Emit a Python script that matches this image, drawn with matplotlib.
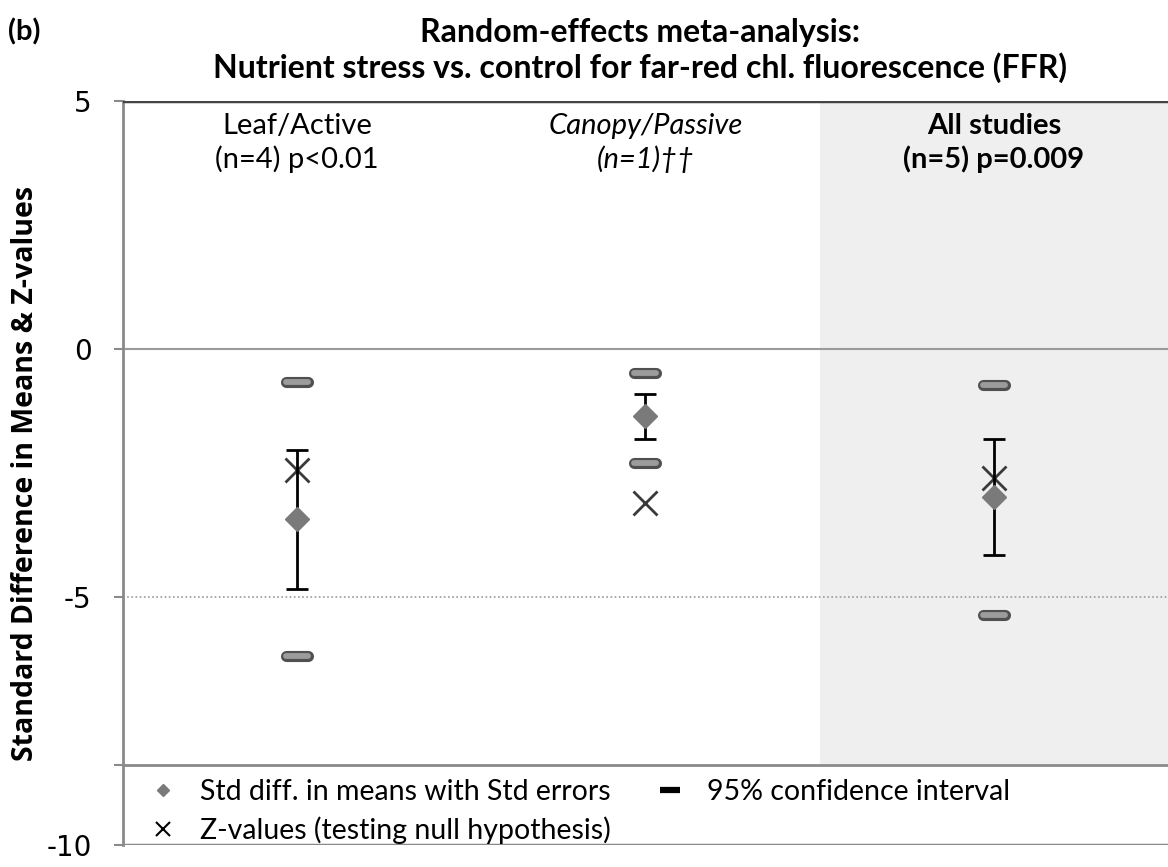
import numpy as np
import matplotlib
matplotlib.use("Agg")
import matplotlib.pyplot as plt
from matplotlib.lines import Line2D
from matplotlib.markers import MarkerStyle

plt.rcParams['font.family'] = ['Lato', 'DejaVu Sans']

# values
groups = ["Leaf/Active", "Canopy/Passive", "All studies"]
group_notes = ["(n=4) p<0.01", "(n=1)\u2020\u2020", "(n=5) p=0.009"]
std_diff = [-3.43, -1.36, -2.98]
std_err = [1.40, 0.45, 1.17]
z_values = [-2.43, -3.10, -2.60]
ci_lower = [-6.19, -2.29, -5.36]
ci_upper = [-0.67, -0.49, -0.73]

x = np.arange(len(groups))

fig = plt.figure(figsize=(11.68, 8.67), dpi=100)
ax = fig.add_axes([0.1053, 0.0254, 0.8947, 0.8581])

legend_top = -8.38
ax.set_xlim(-0.5, 2.5)
ax.set_ylim(-10, 5)

# shaded "all studies" panel
ax.fill_between([1.5, 2.5], legend_top, 5, color="#efefef", zorder=0, lw=0)
ax.axhline(0, color="#9a9a9a", lw=1.5, zorder=1)
ax.axhline(-5, color="#9a9a9a", lw=1.2, ls=(0, (1, 1.5)), zorder=1)
ax.axhline(5, color="#444444", lw=2.5, zorder=3)

# legend box area
ax.fill_between([-0.5, 2.5], -10, legend_top, color="white", zorder=1, lw=0)
ax.axhline(legend_top, color="#8a8a8a", lw=2, zorder=2)
ax.axhline(-10, color="#8a8a8a", lw=2.5, zorder=2)

# confidence interval bounds (rounded bars)
ci_marker = MarkerStyle("_", capstyle="round")
for vals in (ci_lower, ci_upper):
    ax.plot(x, vals, ls="none", marker=ci_marker, ms=16.5, mew=8, mec="#505050", zorder=4)
    ax.plot(x, vals, ls="none", marker=ci_marker, ms=16.5, mew=4.2, mec="#9c9c9c", zorder=5)

# z-values
ax.plot(x, z_values, ls="none", marker="x", ms=17, mew=2, color="#3a3a3a", zorder=4)

# std diff with std errors
ax.errorbar(x, std_diff, yerr=std_err, fmt="none", ecolor="black", elinewidth=2,
            capsize=8, capthick=2, zorder=5)
ax.plot(x, std_diff, ls="none", marker="D", ms=12, color="#7a7a7a", mec="#7a7a7a", zorder=6)

# group labels
styles = [dict(), dict(style="italic"), dict(weight="bold")]
for xi, name, note, st in zip(x, groups, group_notes, styles):
    ax.text(xi, 4.5, name, ha="center", va="center", fontsize=21, color="black", **st)
    ax.text(xi, 3.83, note, ha="center", va="center", fontsize=21, color="black", **st)

# axes styling
for side in ("top", "right", "bottom"):
    ax.spines[side].set_visible(False)
ax.spines["left"].set_color("#8a8a8a")
ax.spines["left"].set_linewidth(2)
ax.set_xticks([])
ax.set_yticks([5, 0, -5, -10])
ax.set_yticklabels(["5", "0", "-5", "-10"], fontsize=20, fontfamily="DejaVu Sans")
ax.set_yticks([legend_top], minor=True)
ax.tick_params(axis="y", which="both", length=6.5, width=1.5, color="#8a8a8a", pad=16)

fig.text(0.022, 0.0254 + 0.8581 / 2, "Standard Difference in Means & Z-values",
         rotation=90, fontsize=20.5, fontweight="bold", fontfamily="Open Sans",
         ha="center", va="center")

handles = [
    Line2D([], [], ls="none", marker="D", ms=6, color="#7a7a7a"),
    Line2D([], [], ls="none", marker="x", ms=10, mew=1.5, color="black"),
    Line2D([], [], ls="none", marker="_", ms=14, mew=4.5, color="black"),
]
labels = ["Std diff. in means with Std errors", "Z-values (testing null hypothesis)",
          "95% confidence interval"]
ax.legend(handles, labels, ncol=2, loc="upper left", bbox_to_anchor=(0.0249, 0.0887),
          frameon=False, fontsize=20.5, handlelength=1.0, handletextpad=0.8,
          columnspacing=1.58, labelspacing=0.41, borderaxespad=0, borderpad=0)

fig.text(0.007, 0.963, "(b)", fontsize=21, fontweight="bold", va="center")
fig.text(0.548, 0.963, "Random-effects meta-analysis:", fontsize=23, fontweight="bold",
         ha="center", va="center")
fig.text(0.548, 0.9216, "Nutrient stress vs. control for far-red chl. fluorescence (FFR)",
         fontsize=23, fontweight="bold", ha="center", va="center")

fig.savefig("out.png", dpi=100)
